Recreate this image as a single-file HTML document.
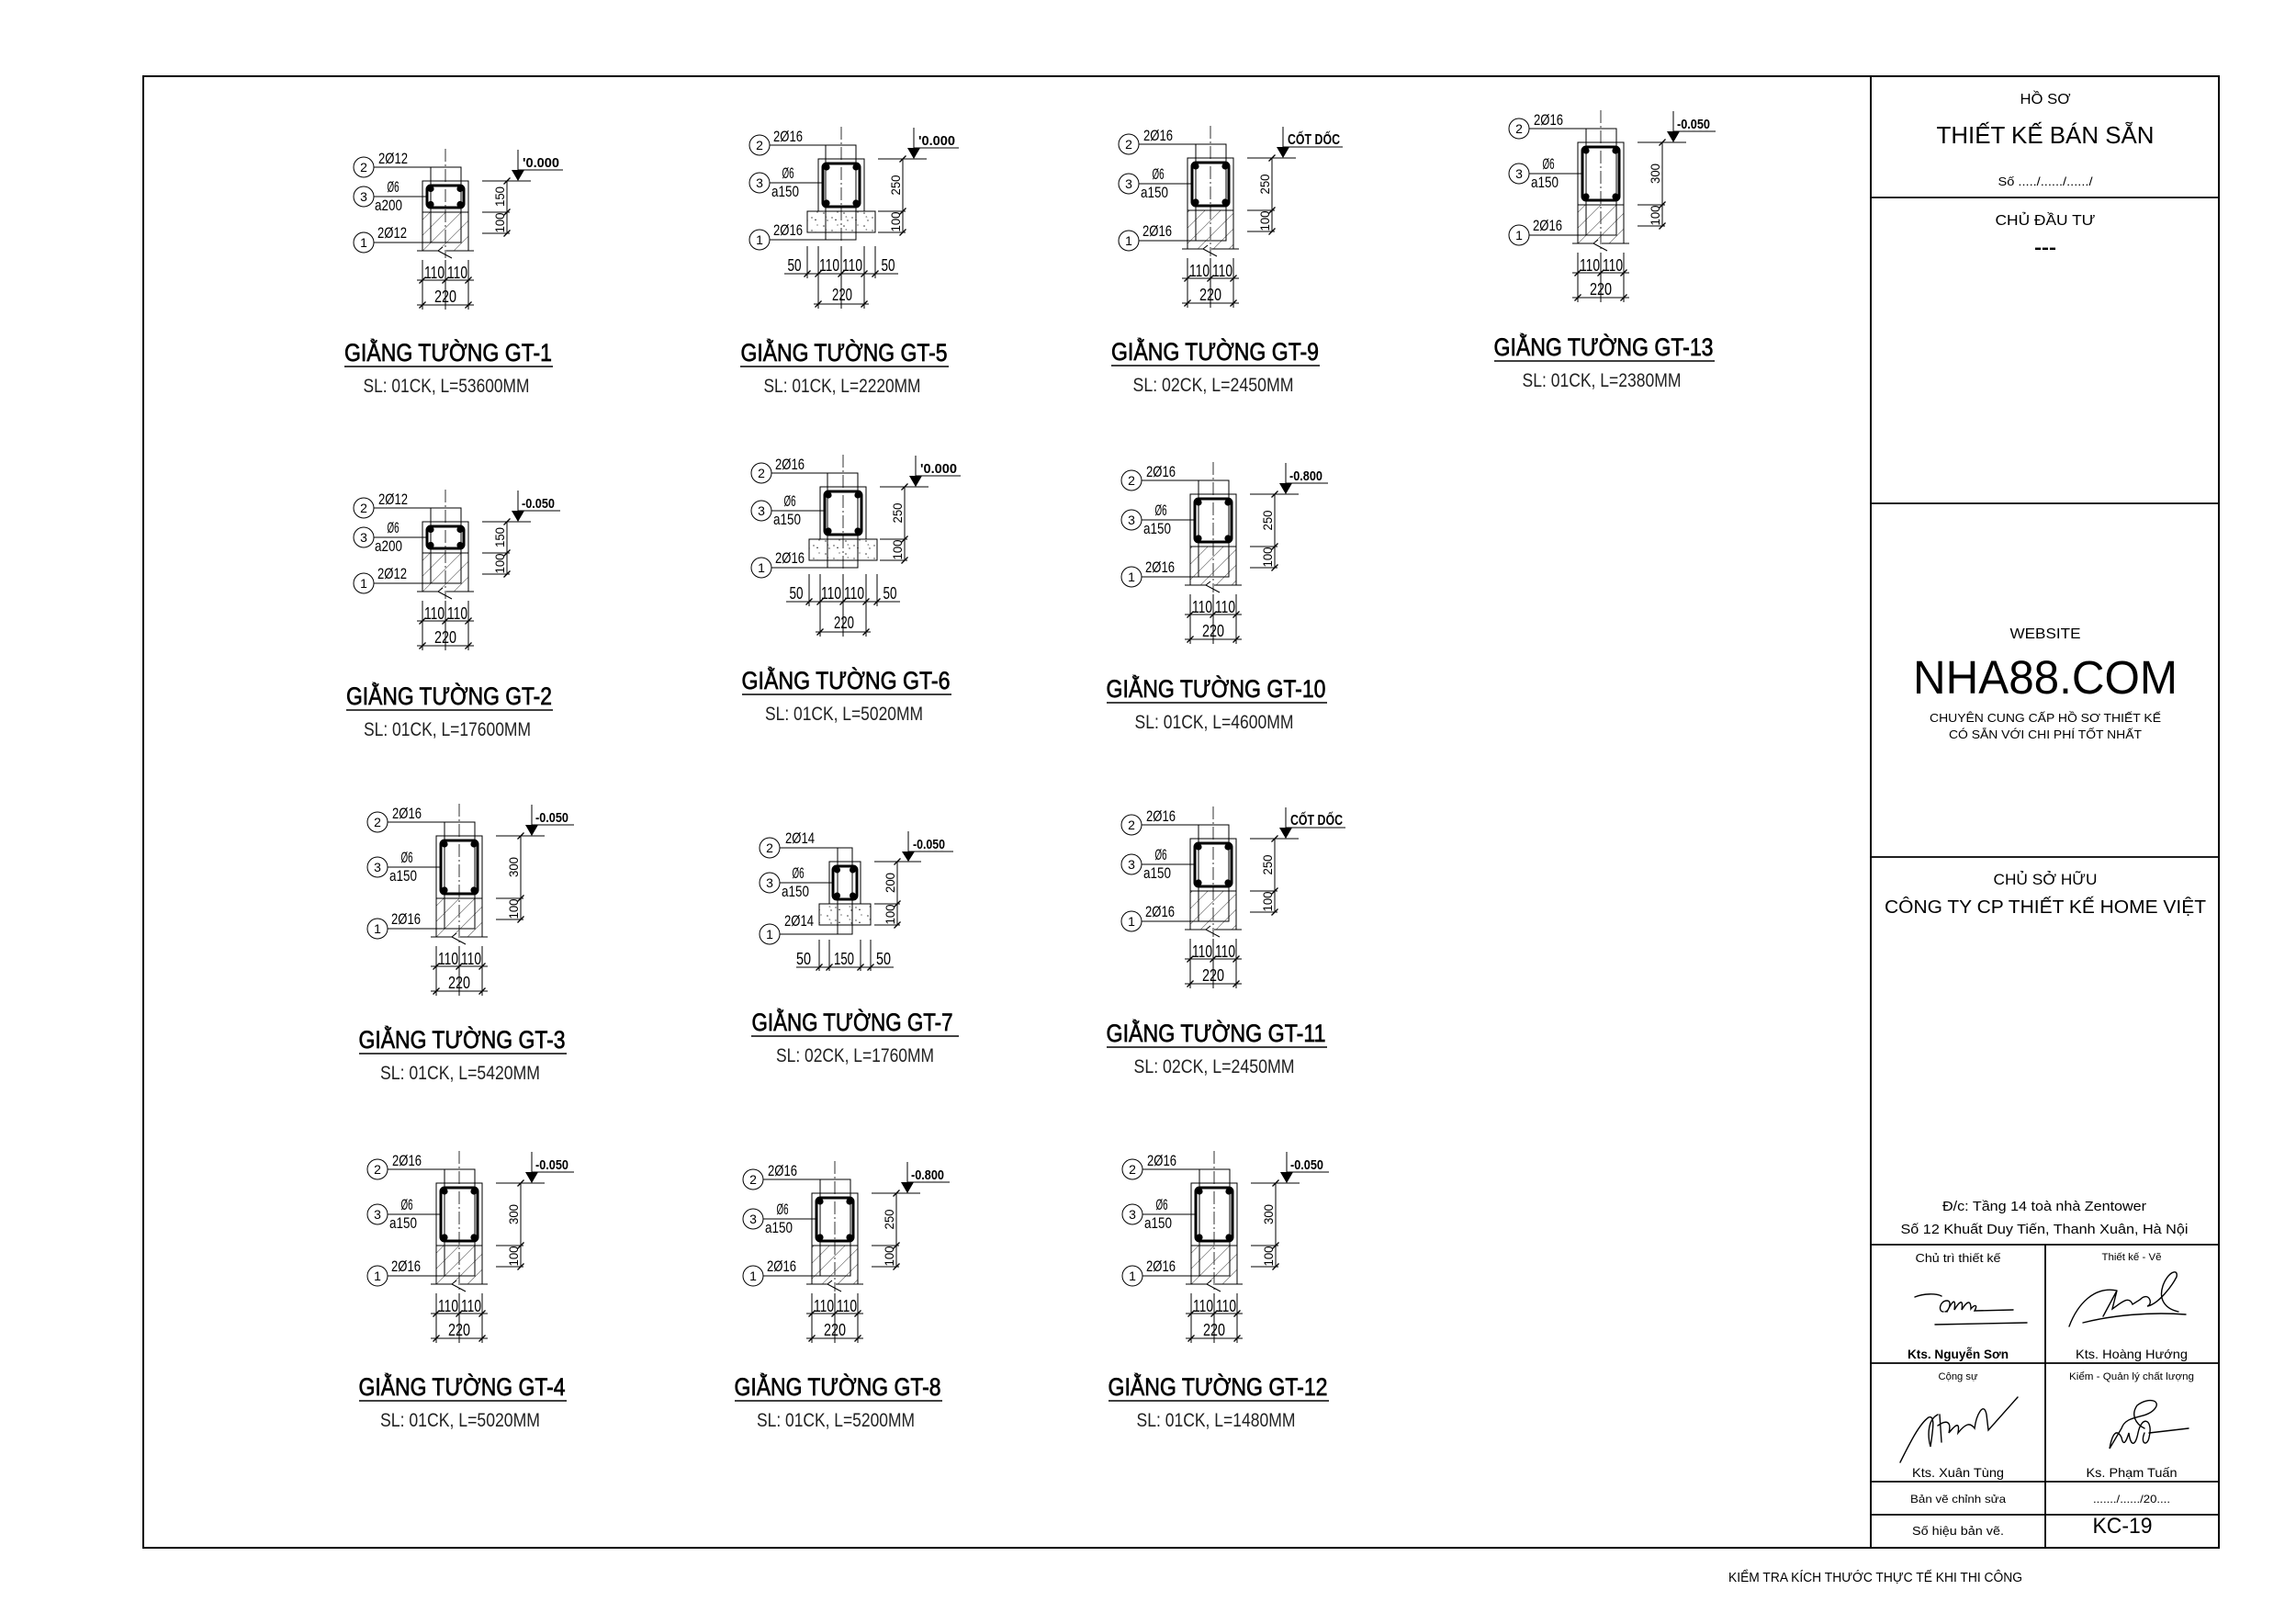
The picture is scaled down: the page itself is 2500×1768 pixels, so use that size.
<!DOCTYPE html>
<html><head><meta charset="utf-8">
<style>
html,body{margin:0;padding:0;background:#fff;}
svg{display:block}
.d{font-family:"Liberation Sans Narrow","Liberation Sans",sans-serif;fill:#000}
.s{font-family:"Liberation Sans",Arial,sans-serif;fill:#000}
.ev{font-weight:bold}
</style></head><body>
<svg width="2500" height="1768" viewBox="0 0 2500 1768" xmlns="http://www.w3.org/2000/svg">
<rect width="2500" height="1768" fill="#fff"/>
<defs>
<pattern id="hatch" width="12" height="12" patternUnits="userSpaceOnUse" patternTransform="rotate(45)">
<line x1="0" y1="0" x2="0" y2="12" stroke="#333" stroke-width="1"/>
</pattern>
<pattern id="conc" width="22" height="14" patternUnits="userSpaceOnUse">
<circle cx="3" cy="3" r="0.8" fill="#333"/><circle cx="12" cy="8" r="0.7" fill="#333"/>
<circle cx="18" cy="2" r="0.6" fill="#333"/><circle cx="7" cy="11" r="0.7" fill="#333"/>
<path d="M15 11l2 0l-1 -2z" fill="#333"/><path d="M5 6l1.5 1.5l-2 0z" fill="#555"/>
</pattern>

<g id="tA" fill="none" stroke="#000" stroke-width="1">
<line x1="0" y1="-35" x2="0" y2="84" stroke-dasharray="14 3 2 3" stroke-width="0.8"/>
<rect x="-25" y="34" width="50" height="42" fill="url(#hatch)" stroke="none"/>
<path d="M-25 34V76M25 34V76M-31 76H-8L-3 72M-8 76L7 84M1 76H31"/>
<rect x="-16" y="-15" width="33" height="82"/>
<path d="M-78 -15H-16M-78 17H-20M-78 67H-16"/>
<circle cx="-89" cy="-15" r="11"/><circle cx="-89" cy="17" r="11"/><circle cx="-89" cy="67" r="11"/>
<rect x="-25" y="0" width="50" height="34"/>
<rect x="-20" y="5" width="40" height="24" rx="4" stroke-width="3"/>
<g fill="#000" stroke="none"><circle cx="-16" cy="8.5" r="3.6"/><circle cx="16" cy="8.5" r="3.6"/><circle cx="-16" cy="25.5" r="3.6"/><circle cx="16" cy="25.5" r="3.6"/></g>
<path d="M67 0V57M40 0H93M40 34H70M40 57H70"/>
<path d="M79 -34V-12"/>
<polygon points="72,-12 86,-12 79,0" fill="#000" stroke="none"/>
<path d="M-25 86V140M0 86V140M25 86V140M-31 108H31M-31 135H31"/>
<path stroke-width="1.3" d="M63.5 3.5l7 -7M63.5 37.5l7 -7M63.5 60.5l7 -7M-28.5 111.5l7 -7M-3.5 111.5l7 -7M21.5 111.5l7 -7M-28.5 138.5l7 -7M21.5 138.5l7 -7"/>
</g>

<g id="tC" fill="none" stroke="#000" stroke-width="1">
<line x1="0" y1="-35" x2="0" y2="107" stroke-dasharray="14 3 2 3" stroke-width="0.8"/>
<rect x="-25" y="57" width="50" height="42" fill="url(#hatch)" stroke="none"/>
<path d="M-25 57V99M25 57V99M-31 99H-8L-3 95M-8 99L7 107M1 99H31"/>
<rect x="-16" y="-15" width="33" height="105"/>
<path d="M-78 -15H-16M-78 28H-20M-78 90H-16"/>
<circle cx="-89" cy="-15" r="11"/><circle cx="-89" cy="28" r="11"/><circle cx="-89" cy="90" r="11"/>
<rect x="-25" y="0" width="50" height="57"/>
<rect x="-20" y="5" width="40" height="47" rx="4" stroke-width="3"/>
<g fill="#000" stroke="none"><circle cx="-16" cy="9" r="3.6"/><circle cx="16" cy="9" r="3.6"/><circle cx="-16" cy="48" r="3.6"/><circle cx="16" cy="48" r="3.6"/></g>
<path d="M67 0V80M40 0H93M40 57H70M40 80H70"/>
<path d="M79 -34V-12"/>
<polygon points="72,-12 86,-12 79,0" fill="#000" stroke="none"/>
<path d="M-25 109V163M0 109V163M25 109V163M-31 131H31M-31 158H31"/>
<path stroke-width="1.3" d="M63.5 3.5l7 -7M63.5 60.5l7 -7M63.5 83.5l7 -7M-28.5 134.5l7 -7M-3.5 134.5l7 -7M21.5 134.5l7 -7M-28.5 161.5l7 -7M21.5 161.5l7 -7"/>
</g>

<g id="tD" fill="none" stroke="#000" stroke-width="1">
<line x1="0" y1="-35" x2="0" y2="118" stroke-dasharray="14 3 2 3" stroke-width="0.8"/>
<rect x="-25" y="68" width="50" height="42" fill="url(#hatch)" stroke="none"/>
<path d="M-25 68V110M25 68V110M-31 110H-8L-3 106M-8 110L7 118M1 110H31"/>
<rect x="-16" y="-15" width="33" height="116"/>
<path d="M-78 -15H-16M-78 34H-20M-78 101H-16"/>
<circle cx="-89" cy="-15" r="11"/><circle cx="-89" cy="34" r="11"/><circle cx="-89" cy="101" r="11"/>
<rect x="-25" y="0" width="50" height="68"/>
<rect x="-20" y="5" width="40" height="58" rx="4" stroke-width="3"/>
<g fill="#000" stroke="none"><circle cx="-16" cy="9" r="3.6"/><circle cx="16" cy="9" r="3.6"/><circle cx="-16" cy="59" r="3.6"/><circle cx="16" cy="59" r="3.6"/></g>
<path d="M67 0V91M40 0H93M40 68H70M40 91H70"/>
<path d="M79 -34V-12"/>
<polygon points="72,-12 86,-12 79,0" fill="#000" stroke="none"/>
<path d="M-25 120V174M0 120V174M25 120V174M-31 142H31M-31 169H31"/>
<path stroke-width="1.3" d="M63.5 3.5l7 -7M63.5 71.5l7 -7M63.5 94.5l7 -7M-28.5 145.5l7 -7M-3.5 145.5l7 -7M21.5 145.5l7 -7M-28.5 172.5l7 -7M21.5 172.5l7 -7"/>
</g>

<g id="tB" fill="none" stroke="#000" stroke-width="1">
<line x1="0" y1="-35" x2="0" y2="92" stroke-dasharray="14 3 2 3" stroke-width="0.8"/>
<rect x="-37" y="57" width="74" height="23" fill="url(#conc)"/>
<rect x="-17" y="-15" width="33" height="103"/>
<path d="M-78 -15H-17M-78 26H-20M-78 88H-17"/>
<circle cx="-89" cy="-15" r="11"/><circle cx="-89" cy="26" r="11"/><circle cx="-89" cy="88" r="11"/>
<rect x="-25" y="0" width="50" height="57"/>
<rect x="-20" y="5" width="40" height="47" rx="4" stroke-width="3"/>
<g fill="#000" stroke="none"><circle cx="-16" cy="9" r="3.6"/><circle cx="16" cy="9" r="3.6"/><circle cx="-16" cy="48" r="3.6"/><circle cx="16" cy="48" r="3.6"/></g>
<path d="M67 0V80M40 0H93M40 57H70M40 80H70"/>
<path d="M79 -34V-12"/>
<polygon points="72,-12 86,-12 79,0" fill="#000" stroke="none"/>
<path d="M-37 95V130M37 95V130M-25 95V163M0 95V163M25 95V163M-62 125H62M-30 158H30"/>
<path stroke-width="1.3" d="M63.5 3.5l7 -7M63.5 60.5l7 -7M63.5 83.5l7 -7M-40.5 128.5l7 -7M-28.5 128.5l7 -7M-3.5 128.5l7 -7M21.5 128.5l7 -7M33.5 128.5l7 -7M-28.5 161.5l7 -7M21.5 161.5l7 -7"/>
</g>

<g id="tE" fill="none" stroke="#000" stroke-width="1">
<rect x="-28" y="46" width="56" height="23" fill="url(#conc)"/>
<rect x="-8" y="-15" width="16" height="94"/>
<path d="M-71 -15H-8M-71 23H-13M-71 79H-8"/>
<circle cx="-82" cy="-15" r="11"/><circle cx="-82" cy="23" r="11"/><circle cx="-82" cy="79" r="11"/>
<rect x="-17" y="0" width="34" height="46"/>
<rect x="-13" y="5" width="26" height="36" rx="4" stroke-width="3"/>
<g fill="#000" stroke="none"><circle cx="-8.5" cy="9" r="3.5"/><circle cx="8.5" cy="9" r="3.5"/><circle cx="-8.5" cy="37" r="3.5"/><circle cx="8.5" cy="37" r="3.5"/></g>
<path d="M57 0V69M32 0H83M32 46H60M32 69H60"/>
<path d="M69 -33V-11"/>
<polygon points="62,-11 76,-11 69,0" fill="#000" stroke="none"/>
<path d="M-28 85V119M-17 85V119M17 85V119M28 85V119M-53 115H53"/>
<path stroke-width="1.3" d="M53.5 3.5l7 -7M53.5 49.5l7 -7M53.5 72.5l7 -7M-31.5 118.5l7 -7M-20.5 118.5l7 -7M13.5 118.5l7 -7M24.5 118.5l7 -7"/>
</g>
</defs>

<!-- Frame -->
<g fill="none" stroke="#000">
<rect x="156" y="83" width="2260" height="1602" stroke-width="2"/>
<line x1="2037" y1="83" x2="2037" y2="1685" stroke-width="2"/>
<path stroke-width="1.8" d="M2037 215H2416M2037 548H2416M2037 933H2416M2037 1355H2416M2037 1484H2416M2037 1613H2416M2037 1649H2416M2227 1355V1685"/>
</g>

<use href="#tA" x="485" y="197"/>
<use href="#tA" x="485" y="568"/>
<use href="#tD" x="500" y="910"/>
<use href="#tD" x="500" y="1288"/>
<use href="#tB" x="916" y="173"/>
<use href="#tB" x="918" y="530"/>
<use href="#tE" x="920" y="938"/>
<use href="#tC" x="909" y="1299"/>
<use href="#tC" x="1318" y="172"/>
<use href="#tC" x="1321" y="538"/>
<use href="#tC" x="1321" y="913"/>
<use href="#tD" x="1322" y="1288"/>
<use href="#tD" x="1743" y="155"/>

<!-- GT-1 texts -->
<g transform="translate(485,197)" class="d" text-anchor="middle" font-size="17">
<text x="-89" y="-10" font-size="14">2</text><text x="-89" y="22" font-size="14">3</text><text x="-89" y="72" font-size="14">1</text>
<text x="-57" y="-19" textLength="32" lengthAdjust="spacingAndGlyphs">2Ø12</text>
<text x="-57" y="12" textLength="13" lengthAdjust="spacingAndGlyphs">Ø6</text>
<text x="-62" y="32" textLength="30" lengthAdjust="spacingAndGlyphs">a200</text>
<text x="-58" y="62" textLength="32" lengthAdjust="spacingAndGlyphs">2Ø12</text>
<text transform="translate(64,17) rotate(-90)" font-size="14" textLength="22" lengthAdjust="spacingAndGlyphs">150</text>
<text transform="translate(64,45.5) rotate(-90)" font-size="14" textLength="22" lengthAdjust="spacingAndGlyphs">100</text>
<text x="-12" y="106" font-size="18" textLength="22" lengthAdjust="spacingAndGlyphs">110</text>
<text x="13" y="106" font-size="18" textLength="22" lengthAdjust="spacingAndGlyphs">110</text>
<text x="0" y="132" font-size="18" textLength="24" lengthAdjust="spacingAndGlyphs">220</text>
<text class="ev" x="84" y="-15" font-size="15" text-anchor="start" textLength="40" lengthAdjust="spacingAndGlyphs">'0.000</text>
<line x1="79" y1="-12" x2="128" y2="-12" stroke="#000"/>
</g>

<!-- GT-2 texts -->
<g transform="translate(485,568)" class="d" text-anchor="middle" font-size="17">
<text x="-89" y="-10" font-size="14">2</text><text x="-89" y="22" font-size="14">3</text><text x="-89" y="72" font-size="14">1</text>
<text x="-57" y="-19" textLength="32" lengthAdjust="spacingAndGlyphs">2Ø12</text>
<text x="-57" y="12" textLength="13" lengthAdjust="spacingAndGlyphs">Ø6</text>
<text x="-62" y="32" textLength="30" lengthAdjust="spacingAndGlyphs">a200</text>
<text x="-58" y="62" textLength="32" lengthAdjust="spacingAndGlyphs">2Ø12</text>
<text transform="translate(64,17) rotate(-90)" font-size="14" textLength="22" lengthAdjust="spacingAndGlyphs">150</text>
<text transform="translate(64,45.5) rotate(-90)" font-size="14" textLength="22" lengthAdjust="spacingAndGlyphs">100</text>
<text x="-12" y="106" font-size="18" textLength="22" lengthAdjust="spacingAndGlyphs">110</text>
<text x="13" y="106" font-size="18" textLength="22" lengthAdjust="spacingAndGlyphs">110</text>
<text x="0" y="132" font-size="18" textLength="24" lengthAdjust="spacingAndGlyphs">220</text>
<text class="ev" x="83" y="-15" font-size="15" text-anchor="start" textLength="36" lengthAdjust="spacingAndGlyphs">-0.050</text>
<line x1="79" y1="-12" x2="125" y2="-12" stroke="#000"/>
</g>

<!-- GT-3 -->
<g transform="translate(500,910)" class="d" text-anchor="middle" font-size="17">
<text x="-89" y="-10" font-size="14">2</text><text x="-89" y="39" font-size="14">3</text><text x="-89" y="106" font-size="14">1</text>
<text x="-57" y="-19" textLength="32" lengthAdjust="spacingAndGlyphs">2Ø16</text>
<text x="-57" y="29" textLength="13" lengthAdjust="spacingAndGlyphs">Ø6</text>
<text x="-61" y="49" textLength="30" lengthAdjust="spacingAndGlyphs">a150</text>
<text x="-58" y="96" textLength="32" lengthAdjust="spacingAndGlyphs">2Ø16</text>
<text transform="translate(64,34) rotate(-90)" font-size="14" textLength="22" lengthAdjust="spacingAndGlyphs">300</text>
<text transform="translate(64,79.5) rotate(-90)" font-size="14" textLength="22" lengthAdjust="spacingAndGlyphs">100</text>
<text x="-12" y="140" font-size="18" textLength="22" lengthAdjust="spacingAndGlyphs">110</text>
<text x="13" y="140" font-size="18" textLength="22" lengthAdjust="spacingAndGlyphs">110</text>
<text x="0" y="166" font-size="18" textLength="24" lengthAdjust="spacingAndGlyphs">220</text>
<text class="ev" x="83" y="-15" font-size="15" text-anchor="start" textLength="36" lengthAdjust="spacingAndGlyphs">-0.050</text>
<line x1="79" y1="-12" x2="125" y2="-12" stroke="#000"/>
</g>

<!-- GT-4 -->
<g transform="translate(500,1288)" class="d" text-anchor="middle" font-size="17">
<text x="-89" y="-10" font-size="14">2</text><text x="-89" y="39" font-size="14">3</text><text x="-89" y="106" font-size="14">1</text>
<text x="-57" y="-19" textLength="32" lengthAdjust="spacingAndGlyphs">2Ø16</text>
<text x="-57" y="29" textLength="13" lengthAdjust="spacingAndGlyphs">Ø6</text>
<text x="-61" y="49" textLength="30" lengthAdjust="spacingAndGlyphs">a150</text>
<text x="-58" y="96" textLength="32" lengthAdjust="spacingAndGlyphs">2Ø16</text>
<text transform="translate(64,34) rotate(-90)" font-size="14" textLength="22" lengthAdjust="spacingAndGlyphs">300</text>
<text transform="translate(64,79.5) rotate(-90)" font-size="14" textLength="22" lengthAdjust="spacingAndGlyphs">100</text>
<text x="-12" y="140" font-size="18" textLength="22" lengthAdjust="spacingAndGlyphs">110</text>
<text x="13" y="140" font-size="18" textLength="22" lengthAdjust="spacingAndGlyphs">110</text>
<text x="0" y="166" font-size="18" textLength="24" lengthAdjust="spacingAndGlyphs">220</text>
<text class="ev" x="83" y="-15" font-size="15" text-anchor="start" textLength="36" lengthAdjust="spacingAndGlyphs">-0.050</text>
<line x1="79" y1="-12" x2="125" y2="-12" stroke="#000"/>
</g>

<!-- GT-12 -->
<g transform="translate(1322,1288)" class="d" text-anchor="middle" font-size="17">
<text x="-89" y="-10" font-size="14">2</text><text x="-89" y="39" font-size="14">3</text><text x="-89" y="106" font-size="14">1</text>
<text x="-57" y="-19" textLength="32" lengthAdjust="spacingAndGlyphs">2Ø16</text>
<text x="-57" y="29" textLength="13" lengthAdjust="spacingAndGlyphs">Ø6</text>
<text x="-61" y="49" textLength="30" lengthAdjust="spacingAndGlyphs">a150</text>
<text x="-58" y="96" textLength="32" lengthAdjust="spacingAndGlyphs">2Ø16</text>
<text transform="translate(64,34) rotate(-90)" font-size="14" textLength="22" lengthAdjust="spacingAndGlyphs">300</text>
<text transform="translate(64,79.5) rotate(-90)" font-size="14" textLength="22" lengthAdjust="spacingAndGlyphs">100</text>
<text x="-12" y="140" font-size="18" textLength="22" lengthAdjust="spacingAndGlyphs">110</text>
<text x="13" y="140" font-size="18" textLength="22" lengthAdjust="spacingAndGlyphs">110</text>
<text x="0" y="166" font-size="18" textLength="24" lengthAdjust="spacingAndGlyphs">220</text>
<text class="ev" x="83" y="-15" font-size="15" text-anchor="start" textLength="36" lengthAdjust="spacingAndGlyphs">-0.050</text>
<line x1="79" y1="-12" x2="125" y2="-12" stroke="#000"/>
</g>

<!-- GT-13 -->
<g transform="translate(1743,155)" class="d" text-anchor="middle" font-size="17">
<text x="-89" y="-10" font-size="14">2</text><text x="-89" y="39" font-size="14">3</text><text x="-89" y="106" font-size="14">1</text>
<text x="-57" y="-19" textLength="32" lengthAdjust="spacingAndGlyphs">2Ø16</text>
<text x="-57" y="29" textLength="13" lengthAdjust="spacingAndGlyphs">Ø6</text>
<text x="-61" y="49" textLength="30" lengthAdjust="spacingAndGlyphs">a150</text>
<text x="-58" y="96" textLength="32" lengthAdjust="spacingAndGlyphs">2Ø16</text>
<text transform="translate(64,34) rotate(-90)" font-size="14" textLength="22" lengthAdjust="spacingAndGlyphs">300</text>
<text transform="translate(64,79.5) rotate(-90)" font-size="14" textLength="22" lengthAdjust="spacingAndGlyphs">100</text>
<text x="-12" y="140" font-size="18" textLength="22" lengthAdjust="spacingAndGlyphs">110</text>
<text x="13" y="140" font-size="18" textLength="22" lengthAdjust="spacingAndGlyphs">110</text>
<text x="0" y="166" font-size="18" textLength="24" lengthAdjust="spacingAndGlyphs">220</text>
<text class="ev" x="83" y="-15" font-size="15" text-anchor="start" textLength="36" lengthAdjust="spacingAndGlyphs">-0.050</text>
<line x1="79" y1="-12" x2="125" y2="-12" stroke="#000"/>
</g>

<!-- GT-5 -->
<g transform="translate(916,173)" class="d" text-anchor="middle" font-size="17">
<text x="-89" y="-10" font-size="14">2</text><text x="-89" y="31" font-size="14">3</text><text x="-89" y="93" font-size="14">1</text>
<text x="-58" y="-19" textLength="32" lengthAdjust="spacingAndGlyphs">2Ø16</text>
<text x="-58" y="21" textLength="13" lengthAdjust="spacingAndGlyphs">Ø6</text>
<text x="-61" y="41" textLength="30" lengthAdjust="spacingAndGlyphs">a150</text>
<text x="-58" y="83" textLength="32" lengthAdjust="spacingAndGlyphs">2Ø16</text>
<text transform="translate(64,28.5) rotate(-90)" font-size="14" textLength="22" lengthAdjust="spacingAndGlyphs">250</text>
<text transform="translate(64,68.5) rotate(-90)" font-size="14" textLength="22" lengthAdjust="spacingAndGlyphs">100</text>
<text x="-51" y="122" font-size="18" textLength="15" lengthAdjust="spacingAndGlyphs">50</text>
<text x="-13" y="122" font-size="18" textLength="22" lengthAdjust="spacingAndGlyphs">110</text>
<text x="12" y="122" font-size="18" textLength="22" lengthAdjust="spacingAndGlyphs">110</text>
<text x="51" y="122" font-size="18" textLength="15" lengthAdjust="spacingAndGlyphs">50</text>
<text x="1" y="154" font-size="18" textLength="22" lengthAdjust="spacingAndGlyphs">220</text>
<text class="ev" x="84" y="-15" font-size="15" text-anchor="start" textLength="40" lengthAdjust="spacingAndGlyphs">'0.000</text>
<line x1="79" y1="-12" x2="128" y2="-12" stroke="#000"/>
</g>

<!-- GT-6 -->
<g transform="translate(918,530)" class="d" text-anchor="middle" font-size="17">
<text x="-89" y="-10" font-size="14">2</text><text x="-89" y="31" font-size="14">3</text><text x="-89" y="93" font-size="14">1</text>
<text x="-58" y="-19" textLength="32" lengthAdjust="spacingAndGlyphs">2Ø16</text>
<text x="-58" y="21" textLength="13" lengthAdjust="spacingAndGlyphs">Ø6</text>
<text x="-61" y="41" textLength="30" lengthAdjust="spacingAndGlyphs">a150</text>
<text x="-58" y="83" textLength="32" lengthAdjust="spacingAndGlyphs">2Ø16</text>
<text transform="translate(64,28.5) rotate(-90)" font-size="14" textLength="22" lengthAdjust="spacingAndGlyphs">250</text>
<text transform="translate(64,68.5) rotate(-90)" font-size="14" textLength="22" lengthAdjust="spacingAndGlyphs">100</text>
<text x="-51" y="122" font-size="18" textLength="15" lengthAdjust="spacingAndGlyphs">50</text>
<text x="-13" y="122" font-size="18" textLength="22" lengthAdjust="spacingAndGlyphs">110</text>
<text x="12" y="122" font-size="18" textLength="22" lengthAdjust="spacingAndGlyphs">110</text>
<text x="51" y="122" font-size="18" textLength="15" lengthAdjust="spacingAndGlyphs">50</text>
<text x="1" y="154" font-size="18" textLength="22" lengthAdjust="spacingAndGlyphs">220</text>
<text class="ev" x="84" y="-15" font-size="15" text-anchor="start" textLength="40" lengthAdjust="spacingAndGlyphs">'0.000</text>
<line x1="79" y1="-12" x2="128" y2="-12" stroke="#000"/>
</g>

<!-- GT-7 -->
<g transform="translate(920,938)" class="d" text-anchor="middle" font-size="17">
<text x="-82" y="-10" font-size="14">2</text><text x="-82" y="28" font-size="14">3</text><text x="-82" y="84" font-size="14">1</text>
<text x="-49" y="-20" textLength="32" lengthAdjust="spacingAndGlyphs">2Ø14</text>
<text x="-51" y="18" textLength="13" lengthAdjust="spacingAndGlyphs">Ø6</text>
<text x="-54" y="38" textLength="30" lengthAdjust="spacingAndGlyphs">a150</text>
<text x="-50" y="70" textLength="32" lengthAdjust="spacingAndGlyphs">2Ø14</text>
<text transform="translate(54,23) rotate(-90)" font-size="14" textLength="22" lengthAdjust="spacingAndGlyphs">200</text>
<text transform="translate(54,57.5) rotate(-90)" font-size="14" textLength="22" lengthAdjust="spacingAndGlyphs">100</text>
<text x="-45" y="112" font-size="18" textLength="16" lengthAdjust="spacingAndGlyphs">50</text>
<text x="-1" y="112" font-size="18" textLength="22" lengthAdjust="spacingAndGlyphs">150</text>
<text x="42" y="112" font-size="18" textLength="16" lengthAdjust="spacingAndGlyphs">50</text>
<text class="ev" x="74" y="-14" font-size="15" text-anchor="start" textLength="35" lengthAdjust="spacingAndGlyphs">-0.050</text>
<line x1="69" y1="-11" x2="118" y2="-11" stroke="#000"/>
</g>

<!-- GT-8 -->
<g transform="translate(909,1299)" class="d" text-anchor="middle" font-size="17">
<text x="-89" y="-10" font-size="14">2</text><text x="-89" y="33" font-size="14">3</text><text x="-89" y="95" font-size="14">1</text>
<text x="-57" y="-19" textLength="32" lengthAdjust="spacingAndGlyphs">2Ø16</text>
<text x="-57" y="23" textLength="13" lengthAdjust="spacingAndGlyphs">Ø6</text>
<text x="-61" y="43" textLength="30" lengthAdjust="spacingAndGlyphs">a150</text>
<text x="-58" y="85" textLength="32" lengthAdjust="spacingAndGlyphs">2Ø16</text>
<text transform="translate(64,28.5) rotate(-90)" font-size="14" textLength="22" lengthAdjust="spacingAndGlyphs">250</text>
<text transform="translate(64,68.5) rotate(-90)" font-size="14" textLength="22" lengthAdjust="spacingAndGlyphs">100</text>
<text x="-12" y="129" font-size="18" textLength="22" lengthAdjust="spacingAndGlyphs">110</text>
<text x="13" y="129" font-size="18" textLength="22" lengthAdjust="spacingAndGlyphs">110</text>
<text x="0" y="155" font-size="18" textLength="24" lengthAdjust="spacingAndGlyphs">220</text>
<text class="ev" x="83" y="-15" font-size="15" text-anchor="start" textLength="36" lengthAdjust="spacingAndGlyphs">-0.800</text>
<line x1="79" y1="-12" x2="125" y2="-12" stroke="#000"/>
</g>

<!-- GT-9 -->
<g transform="translate(1318,172)" class="d" text-anchor="middle" font-size="17">
<text x="-89" y="-10" font-size="14">2</text><text x="-89" y="33" font-size="14">3</text><text x="-89" y="95" font-size="14">1</text>
<text x="-57" y="-19" textLength="32" lengthAdjust="spacingAndGlyphs">2Ø16</text>
<text x="-57" y="23" textLength="13" lengthAdjust="spacingAndGlyphs">Ø6</text>
<text x="-61" y="43" textLength="30" lengthAdjust="spacingAndGlyphs">a150</text>
<text x="-58" y="85" textLength="32" lengthAdjust="spacingAndGlyphs">2Ø16</text>
<text transform="translate(64,28.5) rotate(-90)" font-size="14" textLength="22" lengthAdjust="spacingAndGlyphs">250</text>
<text transform="translate(64,68.5) rotate(-90)" font-size="14" textLength="22" lengthAdjust="spacingAndGlyphs">100</text>
<text x="-12" y="129" font-size="18" textLength="22" lengthAdjust="spacingAndGlyphs">110</text>
<text x="13" y="129" font-size="18" textLength="22" lengthAdjust="spacingAndGlyphs">110</text>
<text x="0" y="155" font-size="18" textLength="24" lengthAdjust="spacingAndGlyphs">220</text>
<text class="ev" x="84" y="-15" font-size="16" text-anchor="start" textLength="57" lengthAdjust="spacingAndGlyphs">CỐT DỐC</text>
<line x1="79" y1="-12" x2="144" y2="-12" stroke="#000"/>
</g>

<!-- GT-10 -->
<g transform="translate(1321,538)" class="d" text-anchor="middle" font-size="17">
<text x="-89" y="-10" font-size="14">2</text><text x="-89" y="33" font-size="14">3</text><text x="-89" y="95" font-size="14">1</text>
<text x="-57" y="-19" textLength="32" lengthAdjust="spacingAndGlyphs">2Ø16</text>
<text x="-57" y="23" textLength="13" lengthAdjust="spacingAndGlyphs">Ø6</text>
<text x="-61" y="43" textLength="30" lengthAdjust="spacingAndGlyphs">a150</text>
<text x="-58" y="85" textLength="32" lengthAdjust="spacingAndGlyphs">2Ø16</text>
<text transform="translate(64,28.5) rotate(-90)" font-size="14" textLength="22" lengthAdjust="spacingAndGlyphs">250</text>
<text transform="translate(64,68.5) rotate(-90)" font-size="14" textLength="22" lengthAdjust="spacingAndGlyphs">100</text>
<text x="-12" y="129" font-size="18" textLength="22" lengthAdjust="spacingAndGlyphs">110</text>
<text x="13" y="129" font-size="18" textLength="22" lengthAdjust="spacingAndGlyphs">110</text>
<text x="0" y="155" font-size="18" textLength="24" lengthAdjust="spacingAndGlyphs">220</text>
<text class="ev" x="83" y="-15" font-size="15" text-anchor="start" textLength="36" lengthAdjust="spacingAndGlyphs">-0.800</text>
<line x1="79" y1="-12" x2="125" y2="-12" stroke="#000"/>
</g>

<!-- GT-11 -->
<g transform="translate(1321,913)" class="d" text-anchor="middle" font-size="17">
<text x="-89" y="-10" font-size="14">2</text><text x="-89" y="33" font-size="14">3</text><text x="-89" y="95" font-size="14">1</text>
<text x="-57" y="-19" textLength="32" lengthAdjust="spacingAndGlyphs">2Ø16</text>
<text x="-57" y="23" textLength="13" lengthAdjust="spacingAndGlyphs">Ø6</text>
<text x="-61" y="43" textLength="30" lengthAdjust="spacingAndGlyphs">a150</text>
<text x="-58" y="85" textLength="32" lengthAdjust="spacingAndGlyphs">2Ø16</text>
<text transform="translate(64,28.5) rotate(-90)" font-size="14" textLength="22" lengthAdjust="spacingAndGlyphs">250</text>
<text transform="translate(64,68.5) rotate(-90)" font-size="14" textLength="22" lengthAdjust="spacingAndGlyphs">100</text>
<text x="-12" y="129" font-size="18" textLength="22" lengthAdjust="spacingAndGlyphs">110</text>
<text x="13" y="129" font-size="18" textLength="22" lengthAdjust="spacingAndGlyphs">110</text>
<text x="0" y="155" font-size="18" textLength="24" lengthAdjust="spacingAndGlyphs">220</text>
<text class="ev" x="84" y="-15" font-size="16" text-anchor="start" textLength="57" lengthAdjust="spacingAndGlyphs">CỐT DỐC</text>
<line x1="79" y1="-12" x2="144" y2="-12" stroke="#000"/>
</g>

<!-- Titles -->
<g class="d" text-anchor="middle">
<g font-size="27" stroke="#000" stroke-width="0.7">
<text x="488" y="393" textLength="226" lengthAdjust="spacingAndGlyphs">GIẰNG TƯỜNG GT-1</text>
<text x="489" y="767" textLength="224" lengthAdjust="spacingAndGlyphs">GIẰNG TƯỜNG GT-2</text>
<text x="503" y="1141" textLength="225" lengthAdjust="spacingAndGlyphs">GIẰNG TƯỜNG GT-3</text>
<text x="503" y="1519" textLength="225" lengthAdjust="spacingAndGlyphs">GIẰNG TƯỜNG GT-4</text>
<text x="919" y="393" textLength="225" lengthAdjust="spacingAndGlyphs">GIẰNG TƯỜNG GT-5</text>
<text x="921" y="750" textLength="227" lengthAdjust="spacingAndGlyphs">GIẰNG TƯỜNG GT-6</text>
<text x="928" y="1122" textLength="219" lengthAdjust="spacingAndGlyphs">GIẰNG TƯỜNG GT-7</text>
<text x="912" y="1519" textLength="225" lengthAdjust="spacingAndGlyphs">GIẰNG TƯỜNG GT-8</text>
<text x="1323" y="392" textLength="226" lengthAdjust="spacingAndGlyphs">GIẰNG TƯỜNG GT-9</text>
<text x="1324" y="759" textLength="239" lengthAdjust="spacingAndGlyphs">GIẰNG TƯỜNG GT-10</text>
<text x="1324" y="1134" textLength="239" lengthAdjust="spacingAndGlyphs">GIẰNG TƯỜNG GT-11</text>
<text x="1326" y="1519" textLength="239" lengthAdjust="spacingAndGlyphs">GIẰNG TƯỜNG GT-12</text>
<text x="1746" y="387" textLength="239" lengthAdjust="spacingAndGlyphs">GIẰNG TƯỜNG GT-13</text>
</g>
<g font-size="21" fill="#222">
<text x="486" y="427" textLength="181" lengthAdjust="spacingAndGlyphs">SL: 01CK, L=53600MM</text>
<text x="487" y="801" textLength="182" lengthAdjust="spacingAndGlyphs">SL: 01CK, L=17600MM</text>
<text x="501" y="1175" textLength="174" lengthAdjust="spacingAndGlyphs">SL: 01CK, L=5420MM</text>
<text x="501" y="1553" textLength="174" lengthAdjust="spacingAndGlyphs">SL: 01CK, L=5020MM</text>
<text x="917" y="427" textLength="171" lengthAdjust="spacingAndGlyphs">SL: 01CK, L=2220MM</text>
<text x="919" y="784" textLength="172" lengthAdjust="spacingAndGlyphs">SL: 01CK, L=5020MM</text>
<text x="931" y="1156" textLength="172" lengthAdjust="spacingAndGlyphs">SL: 02CK, L=1760MM</text>
<text x="910" y="1553" textLength="172" lengthAdjust="spacingAndGlyphs">SL: 01CK, L=5200MM</text>
<text x="1321" y="426" textLength="175" lengthAdjust="spacingAndGlyphs">SL: 02CK, L=2450MM</text>
<text x="1322" y="793" textLength="173" lengthAdjust="spacingAndGlyphs">SL: 01CK, L=4600MM</text>
<text x="1322" y="1168" textLength="175" lengthAdjust="spacingAndGlyphs">SL: 02CK, L=2450MM</text>
<text x="1324" y="1553" textLength="173" lengthAdjust="spacingAndGlyphs">SL: 01CK, L=1480MM</text>
<text x="1744" y="421" textLength="173" lengthAdjust="spacingAndGlyphs">SL: 01CK, L=2380MM</text>
</g>
</g>
<g stroke="#000" stroke-width="1.5">
<line x1="375" y1="399" x2="602" y2="399"/>
<line x1="377" y1="773" x2="602" y2="773"/>
<line x1="391" y1="1147" x2="617" y2="1147"/>
<line x1="391" y1="1525" x2="617" y2="1525"/>
<line x1="806" y1="399" x2="1033" y2="399"/>
<line x1="808" y1="756" x2="1036" y2="756"/>
<line x1="818" y1="1128" x2="1044" y2="1128"/>
<line x1="800" y1="1525" x2="1026" y2="1525"/>
<line x1="1210" y1="398" x2="1437" y2="398"/>
<line x1="1205" y1="765" x2="1445" y2="765"/>
<line x1="1205" y1="1140" x2="1445" y2="1140"/>
<line x1="1207" y1="1525" x2="1447" y2="1525"/>
<line x1="1627" y1="393" x2="1867" y2="393"/>
</g>

<!-- Title block text -->
<g class="s" text-anchor="middle">
<text x="2227" y="113" font-size="16" textLength="55" lengthAdjust="spacingAndGlyphs">HỒ SƠ</text>
<text x="2227" y="156" font-size="26" textLength="237" lengthAdjust="spacingAndGlyphs">THIẾT KẾ BÁN SẴN</text>
<text x="2227" y="202" font-size="13" textLength="103" lengthAdjust="spacingAndGlyphs">Số ...../....../....../</text>
<text x="2227" y="245" font-size="16" textLength="109" lengthAdjust="spacingAndGlyphs">CHỦ ĐẦU TƯ</text>
<text x="2227" y="276" font-size="20" font-weight="bold" textLength="24" lengthAdjust="spacingAndGlyphs">---</text>
<text x="2227" y="695" font-size="16" textLength="77" lengthAdjust="spacingAndGlyphs">WEBSITE</text>
<text x="2227" y="755" font-size="51" textLength="288" lengthAdjust="spacingAndGlyphs">NHA88.COM</text>
<text x="2227" y="786" font-size="13" textLength="252" lengthAdjust="spacingAndGlyphs">CHUYÊN CUNG CẤP HỒ SƠ THIẾT KẾ</text>
<text x="2227" y="804" font-size="13" textLength="210" lengthAdjust="spacingAndGlyphs">CÓ SẴN VỚI CHI PHÍ TỐT NHẤT</text>
<text x="2227" y="963" font-size="17" textLength="113" lengthAdjust="spacingAndGlyphs">CHỦ SỞ HỮU</text>
<text x="2227" y="994" font-size="20" textLength="350" lengthAdjust="spacingAndGlyphs">CÔNG TY CP THIẾT KẾ HOME VIỆT</text>
<text x="2226" y="1318" font-size="15" textLength="222" lengthAdjust="spacingAndGlyphs">Đ/c: Tầng 14 toà nhà Zentower</text>
<text x="2226" y="1343" font-size="15" textLength="313" lengthAdjust="spacingAndGlyphs">Số 12 Khuất Duy Tiến, Thanh Xuân, Hà Nội</text>
<text x="2132" y="1374" font-size="13" textLength="93" lengthAdjust="spacingAndGlyphs">Chủ trì thiết kế</text>
<text x="2321" y="1372" font-size="11" textLength="65" lengthAdjust="spacingAndGlyphs">Thiết kế - Vẽ</text>
<text x="2132" y="1479" font-size="14" font-weight="bold" textLength="110" lengthAdjust="spacingAndGlyphs">Kts. Nguyễn Sơn</text>
<text x="2321" y="1479" font-size="14" textLength="122" lengthAdjust="spacingAndGlyphs">Kts. Hoàng Hướng</text>
<text x="2132" y="1502" font-size="11" textLength="43" lengthAdjust="spacingAndGlyphs">Cộng sự</text>
<text x="2321" y="1502" font-size="11" textLength="136" lengthAdjust="spacingAndGlyphs">Kiểm - Quản lý chất lượng</text>
<text x="2132" y="1608" font-size="14" textLength="100" lengthAdjust="spacingAndGlyphs">Kts. Xuân Tùng</text>
<text x="2321" y="1608" font-size="14" textLength="99" lengthAdjust="spacingAndGlyphs">Ks. Phạm Tuấn</text>
<text x="2132" y="1636" font-size="12" textLength="104" lengthAdjust="spacingAndGlyphs">Bản vẽ chỉnh sửa</text>
<text x="2321" y="1636" font-size="12" textLength="84" lengthAdjust="spacingAndGlyphs">......./....../20....</text>
<text x="2132" y="1671" font-size="13" textLength="100" lengthAdjust="spacingAndGlyphs">Số hiệu bản vẽ.</text>
<text x="2311" y="1669" font-size="24" textLength="65" lengthAdjust="spacingAndGlyphs">KC-19</text>
</g>
<text x="1882" y="1722" class="s" font-size="15" textLength="320" lengthAdjust="spacingAndGlyphs">KIỂM TRA KÍCH THƯỚC THỰC TẾ KHI THI CÔNG</text>

<!-- Signatures -->
<g fill="none" stroke="#000" stroke-width="1.4" stroke-linecap="round">
<path d="M2085 1412C2095 1408 2108 1408 2114 1411M2116 1428C2110 1428 2112 1416 2120 1416C2126 1416 2122 1428 2118 1428M2120 1428C2126 1416 2130 1412 2128 1426C2134 1416 2138 1414 2136 1426C2142 1416 2146 1415 2146 1425C2150 1420 2154 1420 2150 1427L2192 1426M2107 1442L2207 1440"/>
<path d="M2253 1444C2262 1420 2280 1400 2305 1405M2268 1440C2300 1432 2340 1428 2380 1431M2290 1433L2305 1405L2300 1425C2310 1418 2318 1410 2322 1420L2330 1415C2340 1405 2345 1420 2338 1422C2350 1420 2365 1400 2370 1390C2372 1380 2360 1385 2355 1400C2350 1415 2358 1425 2372 1428"/>
<path d="M2069 1592C2080 1570 2090 1550 2100 1543C2108 1540 2104 1560 2102 1575C2098 1560 2100 1545 2110 1540M2112 1540L2114 1570M2110 1552C2120 1545 2125 1548 2122 1560C2130 1550 2134 1548 2132 1560C2140 1550 2145 1548 2150 1555C2152 1540 2160 1525 2163 1540L2165 1557L2197 1521"/>
<path d="M2327 1530C2340 1520 2355 1525 2345 1535C2335 1545 2315 1540 2310 1555L2297 1577C2300 1560 2305 1555 2310 1565C2312 1575 2315 1570 2318 1560C2320 1575 2325 1575 2328 1560C2332 1540 2345 1545 2340 1565C2338 1575 2330 1572 2335 1560M2340 1560L2383 1555M2327 1530C2320 1540 2325 1550 2335 1555"/>
</g>
</svg>
</body></html>
